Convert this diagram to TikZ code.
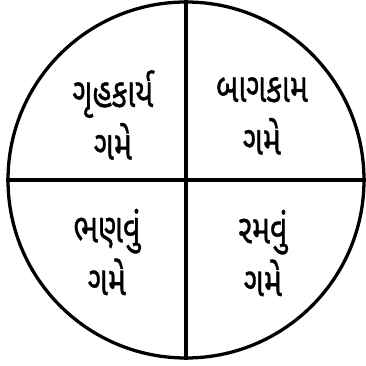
\documentclass[tikz,border=0pt]{standalone}
\usepackage{fontspec}
\newfontfamily\gujfont[Script=Gujarati,FakeStretch=0.74,FakeBold=0.8]{Noto Sans Gujarati UI}
\usetikzlibrary{positioning}

\begin{document}
\begin{tikzpicture}[
    disc/.style={draw, circle, line width=2.8pt, minimum size=10.68cm, inner sep=0pt},
    quad/.style={align=center, font=\gujfont\fontsize{35}{45}\selectfont},
    divider/.style={line width=2.8pt}
]
\useasboundingbox (0,0) rectangle (10.98,10.95);
% Wheel
\node[disc] (wheel) at (5.58,5.55) {};

% Quadrant labels
\node[quad] (chores) at ([shift={(-2.19,1.95)}]wheel.center) {ગૃહકાર્ય\\ગમે};
\node[quad] (garden) at ([shift={(2.28,1.92)}]wheel.center) {બાગકામ\\ગમે};
\node[quad] (study) at ([shift={(-2.37,-2.16)}]wheel.center) {ભણવું\\ગમે};
\node[quad] (play) at ([shift={(2.31,-2.19)}]wheel.center) {રમવું\\ગમે};

% Dividers
\draw[divider] (wheel.north) -- (wheel.south);
\draw[divider] (wheel.west) -- (wheel.east);

\end{tikzpicture}
\end{document}
